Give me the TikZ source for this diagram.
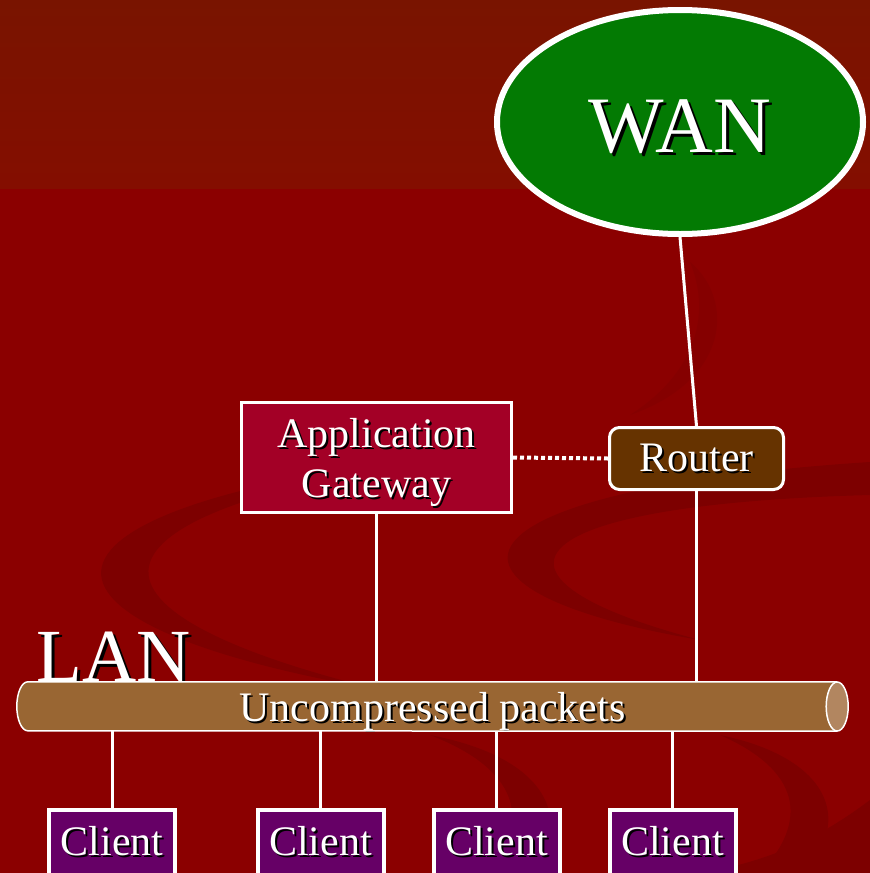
\documentclass[tikz,border=0pt]{standalone}
\usepackage{fontspec}
\setmainfont{Liberation Serif}
\usetikzlibrary{shapes.geometric}
\definecolor{bgred}{RGB}{139,0,0}
\definecolor{bandtop}{RGB}{121,20,0}
\definecolor{bandbot}{RGB}{132,14,0}
\definecolor{swirl}{RGB}{125,0,0}
\definecolor{faintswirl}{RGB}{133,0,0}
\definecolor{wangreen}{RGB}{3,122,3}
\definecolor{gatered}{RGB}{163,0,38}
\definecolor{routerbrown}{RGB}{102,51,0}
\definecolor{pipebrown}{RGB}{153,102,51}
\definecolor{pipeend}{RGB}{178,134,96}
\definecolor{clientpurple}{RGB}{102,0,102}
\newcommand\dropsh[2][2pt]{\makebox[0pt][l]{\hspace{#1}\raisebox{-#1}{\color{black}#2}}#2}

\begin{document}
\begin{tikzpicture}[x=1pt,y=-1pt,
  box/.style={draw=white,line width=3pt,text=white,inner sep=0pt,font=\fontsize{42}{50}\selectfont},
  gate/.style={box,fill=gatered,minimum width=270,minimum height=110,align=center,text depth=0pt},
  rtr/.style={box,fill=routerbrown,minimum width=174,minimum height=62,rounded corners=10pt},
  client/.style={box,line width=4pt,fill=clientpurple,minimum width=126,minimum height=65},
  cloud/.style={ellipse,draw=white,line width=6pt,fill=wangreen,minimum width=366,minimum height=224,inner sep=0pt,text=white,text height=60pt,text depth=0pt,font=\fontsize{80}{84}\selectfont},
  pipebody/.style={fill=pipebrown,text=white,inner sep=0pt,minimum width=809,minimum height=49,text depth=0pt,font=\fontsize{42}{50}\selectfont},
  rim/.style={draw=white,line width=1.5pt},
  wire/.style={draw=white,line width=3pt},
  link/.style={draw=white,line width=4pt,dash pattern=on 4pt off 3pt}]
\useasboundingbox (0,0) rectangle (870,873);
\clip (0,0) rectangle (870,873);
\fill[bgred] (0,0) rectangle (870,873);
\shade[top color=bandtop,bottom color=bandbot] (0,0) rectangle (870,188);
\begin{scope}[every path/.append style={fill=swirl}]
\path (480,452) .. controls (10,500) and (-22,620) .. (380,690) .. controls (53,610) and (60,510) .. (480,452) -- cycle;
\path (870,462) .. controls (440,490) and (405,590) .. (700,640) .. controls (470,580) and (500,505) .. (870,495) -- cycle;
\path (430,735) .. controls (560,760) and (570,830) .. (530,873) -- (490,873) .. controls (530,820) and (520,770) .. (430,735) -- cycle;
\path (720,735) .. controls (840,760) and (850,830) .. (800,873) -- (760,873) .. controls (810,820) and (800,770) .. (720,735) -- cycle;
\path (870,800) -- (870,873) -- (700,873) .. controls (780,860) and (830,830) .. (870,800) -- cycle;
\path[fill=faintswirl] (690,262) .. controls (735,300) and (730,380) .. (630,415) .. controls (700,370) and (710,310) .. (690,262) -- cycle;
\end{scope}

\node[cloud] (wan) at (680,122) {\dropsh[3pt]{WAN}};
\node[gate] (gw) at (376.5,457.5) {\dropsh{Application}\\\dropsh{Gateway}};
\node[rtr] (router) at (696.5,458.5) {\dropsh{Router}};
\node[text=white,inner sep=0pt,anchor=base west,font=\fontsize{75}{80}\selectfont] (lan) at (36,681) {\dropsh[3pt]{LAN}};

\node[pipebody] (pipe) at (432.5,706.5) {\dropsh{Uncompressed packets}};
\fill[pipebrown] (pipe.west) ellipse [x radius=11pt,y radius=24.5pt];
\draw[rim] (pipe.north east) -- (pipe.north west) arc [start angle=90,end angle=270,x radius=11pt,y radius=24.5pt] -- (pipe.south east);
\draw[rim,fill=pipeend] (pipe.east) ellipse [x radius=11pt,y radius=24.5pt];

\draw[wire] (wan.south) -- (router.north);
\draw[link] (gw.east) -- (router.west);
\draw[wire] (gw.south) -- (gw.south |- pipe.north);
\draw[wire] (router.south) -- (router.south |- pipe.north);
\foreach \x/\i in {112/1,320.5/2,496.5/3,672.5/4}{
  \node[client] (c\i) at (\x,842.5) {\dropsh{Client}};
  \draw[wire] (c\i.north) -- (c\i.north |- pipe.south);
}
\end{tikzpicture}
\end{document}
